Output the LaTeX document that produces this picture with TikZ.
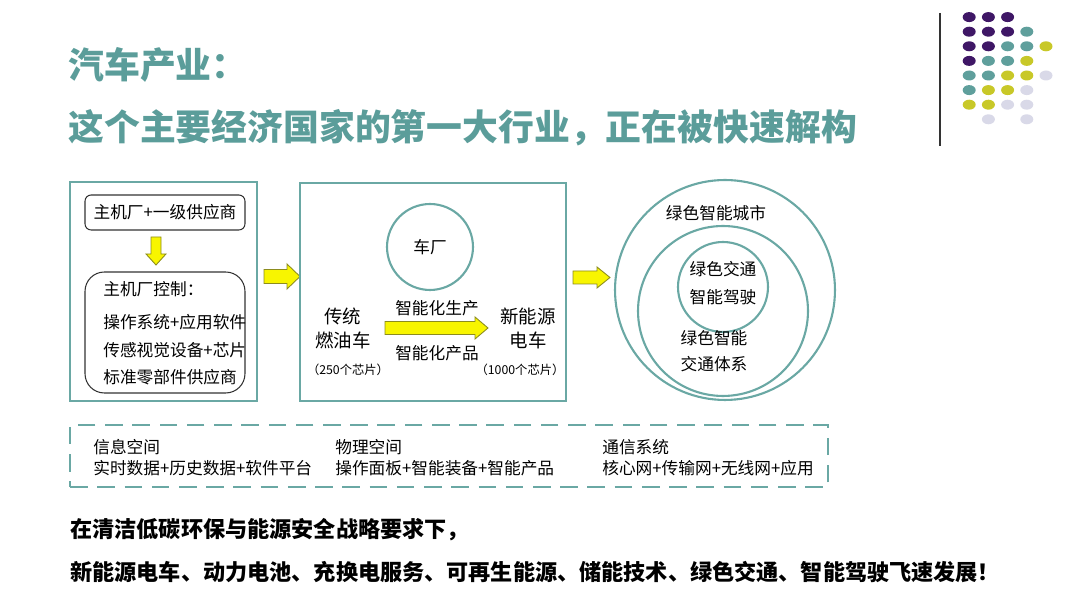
\documentclass[tikz,border=0pt]{standalone}
\usepackage{fontspec}
\newfontfamily\cjk{Noto Sans CJK SC}
\usetikzlibrary{positioning}
\definecolor{tealline}{HTML}{6AA8A4}
\definecolor{titleteal}{HTML}{5B9D9A}
\definecolor{dotpurple}{HTML}{3F1766}
\definecolor{dotteal}{HTML}{5F9F9C}
\definecolor{dotyellow}{HTML}{C8C828}
\definecolor{dotlav}{HTML}{D9D9E8}
\definecolor{arrowfill}{HTML}{F8F500}
\definecolor{arrowedge}{HTML}{8C8C1E}

% horizontal block arrow: x0, x1, head start, y centre, shaft half, head half
\newcommand{\hblock}[6]{%
  \draw[yarrow] (#1,#4-#5) -- (#3,#4-#5) -- (#3,#4-#6) -- (#2,#4)
    -- (#3,#4+#6) -- (#3,#4+#5) -- (#1,#4+#5) -- cycle;}

\begin{document}
\begin{tikzpicture}[x=0.02cm, y=-0.02cm, font=\cjk,
    title/.style={anchor=west, text=titleteal, font=\cjk\bfseries\fontsize{20.4}{24}\selectfont, inner sep=0},
    panel/.style={draw=tealline, line width=1.2pt, inner sep=0},
    ibox/.style={draw=black!80, line width=0.6pt, inner sep=0, minimum width=3.2cm},
    ring/.style={draw=tealline, line width=1.2pt, circle, inner sep=0},
    txt/.style={font=\cjk\fontsize{9.5}{13}\selectfont, inner sep=0},
    big/.style={font=\cjk\fontsize{10.5}{13}\selectfont, inner sep=0, align=center},
    chips/.style={font=\cjk\fontsize{7}{9}\selectfont, inner sep=0},
    note/.style={anchor=west, inner sep=0, font=\cjk\bfseries\fontsize{12.6}{15}\selectfont},
    yarrow/.style={fill=arrowfill, draw=arrowedge, line width=0.5pt, line join=miter}
  ]
  \useasboundingbox (0,0) rectangle (1080,607);

  % title
  \node[title] (t1) at (68,65) {汽车产业：};
  \node[title] (t2) at (68,128) {这个主要经济国家的第一大行业，正在被快速解构};

  % logo dots
  \draw[black!80, line width=0.8pt] (940,13) -- (940,146);
  \foreach \c/\r/\col in {1/1/dotpurple,2/1/dotpurple,3/1/dotpurple,
      1/2/dotpurple,2/2/dotpurple,3/2/dotpurple,4/2/dotteal,
      1/3/dotpurple,2/3/dotpurple,3/3/dotteal,4/3/dotteal,5/3/dotyellow,
      1/4/dotpurple,2/4/dotteal,3/4/dotteal,4/4/dotyellow,
      1/5/dotteal,2/5/dotteal,3/5/dotyellow,4/5/dotyellow,5/5/dotlav,
      1/6/dotteal,2/6/dotyellow,3/6/dotyellow,4/6/dotlav,
      1/7/dotyellow,2/7/dotyellow,3/7/dotlav,4/7/dotlav,
      2/8/dotlav,4/8/dotlav}
    \fill[\col] ({950+19.2*\c},{2.5+14.6*\r}) ellipse (6.5 and 5);

  % panel 1
  \node[panel, minimum width=3.74cm, minimum height=4.38cm] (p1) at (163.5,291.5) {};
  \node[ibox, rounded corners=3.5pt, minimum height=0.7cm] (oem) at (165,212.5) {};
  \node[txt] at (oem) {主机厂+一级供应商};
  \node[ibox, rounded corners=11pt, minimum height=2.42cm] (ctrl) at (165,332.5) {};
  \node[txt, anchor=west] (c0) at (103,289) {主机厂控制：};
  \node[txt, anchor=west] (c1) at (103,322) {操作系统+应用软件};
  \node[txt, anchor=west] (c2) at (103,350) {传感视觉设备+芯片};
  \node[txt, anchor=west] (c3) at (103,377) {标准零部件供应商};
  \draw[yarrow] (151,237) -- (161,237) -- (161,254) -- (166,254) -- (156,265)
    -- (146,254) -- (151,254) -- cycle;

  \hblock{264}{300}{287}{276.5}{7}{12.5}

  % panel 2
  \node[panel, minimum width=5.32cm, minimum height=4.36cm] (p2) at (433,292) {};
  \node[ring, minimum size=1.72cm] (plant) at (430,247) {};
  \node[txt] at (plant) {车厂};
  \node[big] (fuel) at (343,328.5) {传统\\[1pt]燃油车};
  \node[chips] (c250) at (348,370) {（250个芯片）};
  \node[big] (ev) at (528,328.5) {新能源\\[1pt]电车};
  \node[chips] (c1000) at (520,370) {（1000个芯片）};
  \node[txt] (prod) at (437,308) {智能化生产};
  \node[txt] (smart) at (437,353) {智能化产品};
  \hblock{385}{488}{475}{328}{6.5}{11}

  \hblock{573}{610}{597}{277.5}{6.5}{10.5}

  % rings
  \node[ring, minimum size=4.4cm] (city) at (725,290) {};
  \node[ring, minimum size=3.4cm] (sys) at (723,311) {};
  \node[ring, minimum size=1.8cm] (drive) at (723,287) {};
  \node[txt] at (716,213) {绿色智能城市};
  \node[txt, align=center] at (723,283) {绿色交通\\[3pt]智能驾驶};
  \node[txt, align=center] at (714,351) {绿色智能\\[2pt]交通体系};

  % dashed frame
  \node[draw=tealline, line width=1.2pt, dash pattern=on 10pt off 5.5pt,
    minimum width=15.16cm, minimum height=1.24cm, inner sep=0] (space) at (449,456) {};
  \node[txt, anchor=west] (info) at (93,447) {信息空间};
  \node[txt, below=3pt of info.south west, anchor=north west] {实时数据+历史数据+软件平台};
  \node[txt, anchor=west] (phys) at (335,447) {物理空间};
  \node[txt, below=3pt of phys.south west, anchor=north west] {操作面板+智能装备+智能产品};
  \node[txt, anchor=west] (comm) at (602,447) {通信系统};
  \node[txt, below=3pt of comm.south west, anchor=north west] {核心网+传输网+无线网+应用};

  % bottom lines
  \node[note] (l1) at (70,530) {在清洁低碳环保与能源安全战略要求下，};
  \node[note] (l2) at (70,572) {新能源电车、动力电池、充换电服务、可再生能源、储能技术、绿色交通、智能驾驶飞速发展！};
\end{tikzpicture}
\end{document}
